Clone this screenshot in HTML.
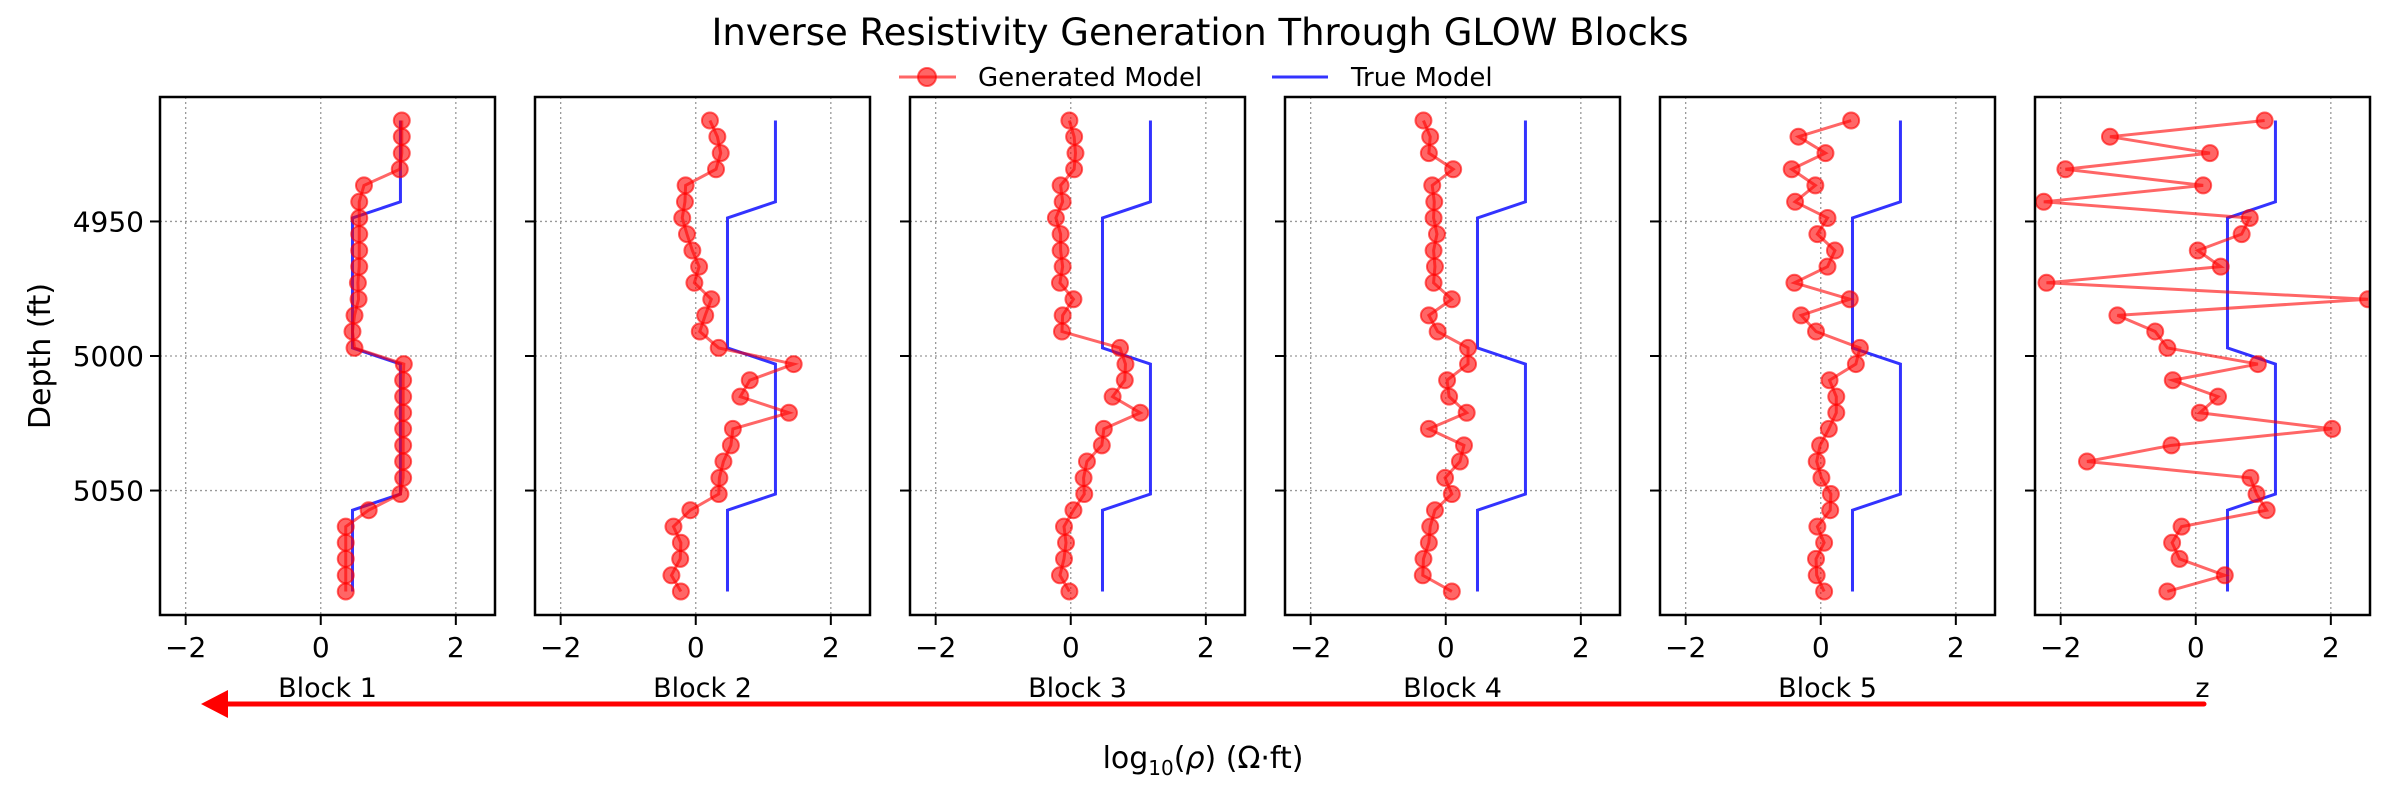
<!DOCTYPE html>
<html><head><meta charset="utf-8"><style>
html,body{margin:0;padding:0;background:#fff}
svg{display:block;font-family:"DejaVu Sans","Liberation Sans",sans-serif}
</style></head><body>
<svg id="fig" width="2400" height="800" viewBox="0 0 2400 800" xmlns="http://www.w3.org/2000/svg">
<text x="1200" y="45" text-anchor="middle" font-size="37">Inverse Resistivity Generation Through GLOW Blocks</text>
<g>
<g>
<line x1="899" y1="77" x2="956" y2="77" stroke="rgba(255,0,0,0.6)" stroke-width="3"/>
<circle cx="927" cy="77" r="9" fill="rgba(255,0,0,0.6)" stroke="rgba(255,0,0,0.6)" stroke-width="2"/>
<text x="978" y="86" font-size="26">Generated Model</text></g>
<g>
<line x1="1272" y1="77" x2="1328" y2="77" stroke="rgba(0,0,255,0.8)" stroke-width="3"/>
<text x="1351" y="86" font-size="26">True Model</text></g>
</g>
<text transform="translate(50,356) rotate(-90)" text-anchor="middle" font-size="30">Depth (ft)</text>
<text x="1203" y="768" text-anchor="middle" font-size="30">log<tspan font-size="20" dy="7">10</tspan><tspan dy="-7">(</tspan><tspan font-style="italic">ρ</tspan><tspan>) (Ω·ft)</tspan></text>
<g>
<line x1="2204" y1="704" x2="225" y2="704" stroke="#f00" stroke-width="5" stroke-linecap="round"/>
<polygon points="201,704 228,690 228,718" fill="#f00"/>
</g>
<g id="panels"></g>
</svg>
<script>
const depths=[4912.5,4918.5,4924.6,4930.6,4936.6,4942.7,4948.7,4954.7,4960.8,4966.8,4972.8,4978.9,4984.9,4990.9,4997.0,5003.0,5009.0,5015.1,5021.1,5027.1,5033.2,5039.2,5045.3,5051.3,5057.3,5063.4,5069.4,5075.4,5081.5,5087.5];
const trueModel=[1.18,1.18,1.18,1.18,1.18,1.18,0.47,0.47,0.47,0.47,0.47,0.47,0.47,0.47,0.47,1.18,1.18,1.18,1.18,1.18,1.18,1.18,1.18,1.18,0.47,0.47,0.47,0.47,0.47,0.47];
const block1=[1.2,1.2,1.2,1.17,0.64,0.57,0.57,0.57,0.57,0.57,0.55,0.56,0.5,0.47,0.5,1.23,1.22,1.22,1.22,1.22,1.22,1.22,1.22,1.18,0.71,0.37,0.37,0.37,0.37,0.37];
const block2=[0.21,0.32,0.37,0.30,-0.15,-0.16,-0.20,-0.13,-0.05,0.05,-0.02,0.23,0.14,0.06,0.34,1.45,0.80,0.66,1.38,0.55,0.52,0.41,0.35,0.34,-0.08,-0.33,-0.22,-0.23,-0.36,-0.22];
const block3=[-0.02,0.05,0.07,0.05,-0.15,-0.12,-0.22,-0.15,-0.15,-0.12,-0.16,0.04,-0.12,-0.13,0.73,0.81,0.80,0.62,1.03,0.49,0.46,0.24,0.19,0.20,0.04,-0.10,-0.07,-0.10,-0.16,-0.02];
const block4=[-0.33,-0.23,-0.25,0.11,-0.20,-0.17,-0.18,-0.13,-0.18,-0.16,-0.18,0.09,-0.25,-0.12,0.33,0.33,0.02,0.05,0.31,-0.25,0.27,0.21,-0.01,0.09,-0.16,-0.23,-0.25,-0.33,-0.34,0.09];
const block5=[0.45,-0.33,0.07,-0.43,-0.08,-0.38,0.10,-0.05,0.21,0.10,-0.39,0.43,-0.29,-0.07,0.58,0.52,0.13,0.23,0.23,0.12,-0.01,-0.06,0.01,0.15,0.14,-0.05,0.05,-0.07,-0.06,0.05];
const zvals=[1.02,-1.27,0.21,-1.93,0.11,-2.25,0.80,0.68,0.03,0.37,-2.21,2.55,-1.16,-0.60,-0.42,0.92,-0.34,0.33,0.06,2.02,-0.36,-1.61,0.81,0.90,1.05,-0.21,-0.35,-0.24,0.43,-0.42];
const panelLabels=["Block 1","Block 2","Block 3","Block 4","Block 5","z"];
const xTicks=[-2,0,2];
const yTicks=[4950,5000,5050];
const xDomain=[-2.38,2.58];
const yDomain=[4903.75,5096.25];

const series=[block1,block2,block3,block4,block5,zvals];
const NS="http://www.w3.org/2000/svg";
const root=document.getElementById('panels');
const PW=335,TOP=97,BOT=615;
function mk(t,a,p){const e=document.createElementNS(NS,t);for(const k in a)e.setAttribute(k,a[k]);p.appendChild(e);return e;}
series.forEach((vals,pi)=>{
  const L=160+pi*375;
  const sx=v=>L+(v-xDomain[0])/(xDomain[1]-xDomain[0])*PW;
  const sy=d=>TOP+(d-yDomain[0])/(yDomain[1]-yDomain[0])*(BOT-TOP);
  const g=mk('g',{},root);
  
  
  const cid='clip'+pi;
  const cp=mk('clipPath',{id:cid},g);mk('rect',{x:L,y:TOP,width:PW,height:BOT-TOP},cp);
  xTicks.forEach(t=>{
    const gl=mk('line',{x1:sx(t),x2:sx(t),y1:TOP,y2:BOT,stroke:'#999','stroke-width':1.3,'stroke-dasharray':'2,3'},g);
    
    
    mk('line',{x1:sx(t),x2:sx(t),y1:BOT,y2:BOT+10,stroke:'#000','stroke-width':2},g);
    const tl=mk('text',{x:sx(t),y:BOT+42,'text-anchor':'middle','font-size':28},g);
    tl.textContent=(t<0?'\u2212':'')+Math.abs(t);
    
    
  });
  yTicks.forEach(t=>{
    const gl=mk('line',{x1:L,x2:L+PW,y1:sy(t),y2:sy(t),stroke:'#999','stroke-width':1.3,'stroke-dasharray':'2,3'},g);
    
    
    mk('line',{x1:L-10,x2:L,y1:sy(t),y2:sy(t),stroke:'#000','stroke-width':2},g);
    if(pi===0){
      const tl=mk('text',{x:L-16,y:sy(t)+10,'text-anchor':'end','font-size':28},g);
      tl.textContent=t;
      
      
    }
  });
  const dg=mk('g',{'clip-path':'url(#'+cid+')'},g);
  const tp=mk('polyline',{points:trueModel.map((v,i)=>sx(v)+','+sy(depths[i])).join(' '),fill:'none',stroke:'rgba(0,0,255,0.8)','stroke-width':3},dg);
  
  
  const gp=mk('polyline',{points:vals.map((v,i)=>sx(v)+','+sy(depths[i])).join(' '),fill:'none',stroke:'rgba(255,0,0,0.6)','stroke-width':3},dg);
  
  
  vals.forEach((v,i)=>{
    const c=mk('circle',{cx:sx(v),cy:sy(depths[i]),r:8,fill:'rgba(255,0,0,0.6)',stroke:'rgba(255,0,0,0.6)','stroke-width':2},dg);
    
    
  });
  const fr=mk('rect',{x:L,y:TOP,width:PW,height:BOT-TOP,fill:'none',stroke:'#000','stroke-width':2.5},g);
  
  
  const lb=mk('text',{x:L+PW/2,y:697,'text-anchor':'middle','font-size':27},g);
  lb.textContent=panelLabels[pi];
  
  
});
</script>
</body></html>
